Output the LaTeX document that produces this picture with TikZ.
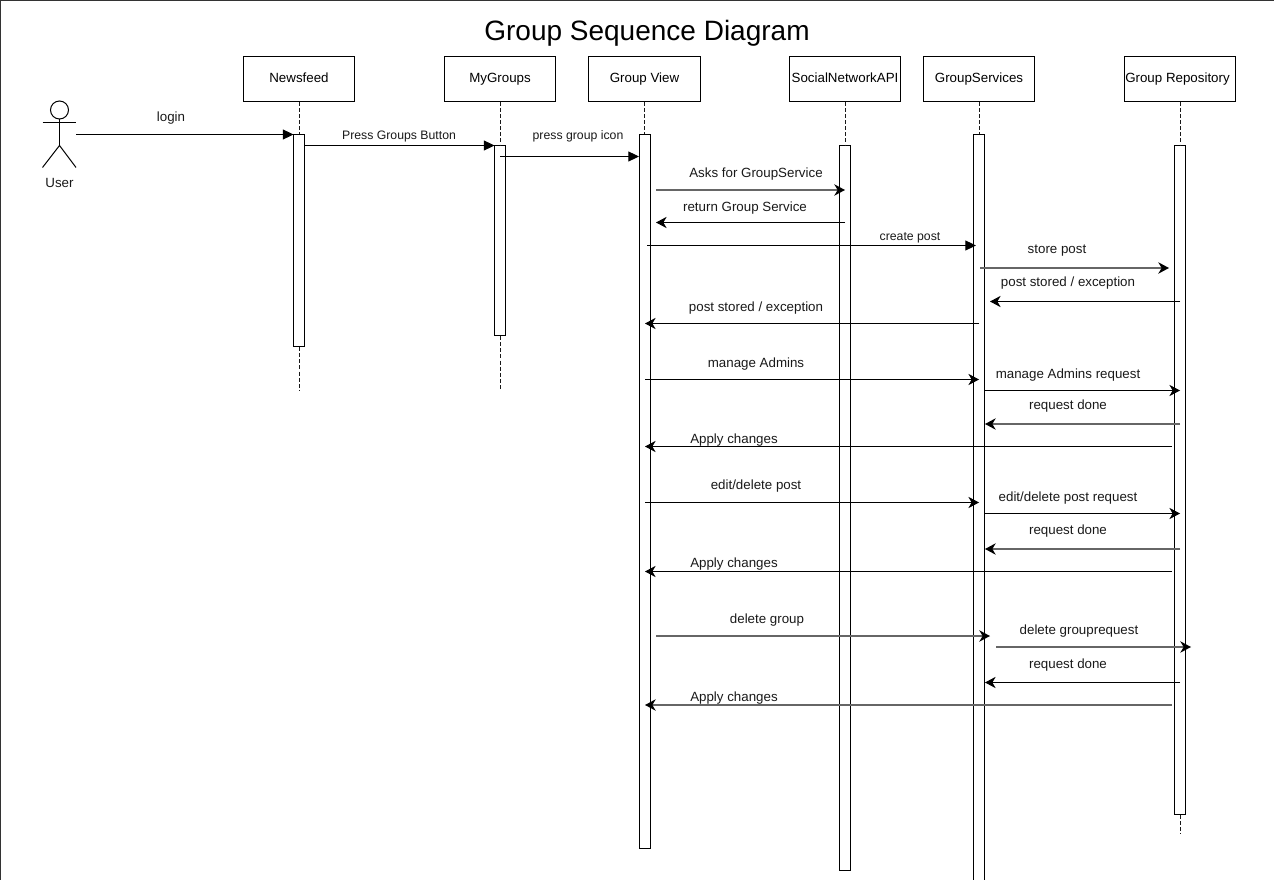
\documentclass[tikz,border=0pt]{standalone}
\usepackage{fontspec}
\setmainfont{Liberation Sans}
\usetikzlibrary{arrows.meta}

\tikzset{
  lifebox/.style={draw, fill=white, line width=0.75pt, minimum width=83.5pt, minimum height=33.75pt, inner sep=0pt, text height=7.2pt, text depth=2.1pt, font=\fontsize{10}{12}\selectfont},
  bar/.style={draw, fill=white, line width=0.75pt, minimum width=8.25pt, minimum height=#1*0.75pt, inner sep=0pt},
  life/.style={black!90, line width=0.75pt, dash pattern=on 3pt off 1.6pt},
  call/.style={black, line width=0.75pt, -{Triangle[length=8pt, width=7.5pt]}},
  msg/.style={black, line width=0.75pt, -{Stealth[length=8pt, width=8.5pt, inset=2.5pt]}},
  msgwide/.style={black!60, line width=1.1pt, -{Stealth[length=8pt, width=8.5pt, inset=2.5pt, black]}},
  lbl/.style={inner sep=0pt, text=black!90, text height=7.2pt, text depth=2.1pt, font=\fontsize{10}{12}\selectfont},
  small/.style={inner sep=0pt, text=black!90, text height=6.6pt, text depth=1.9pt, font=\fontsize{9.2}{11}\selectfont}
}

\begin{document}
\begin{tikzpicture}[x=0.75pt, y=-0.75pt]
\useasboundingbox (0,0) rectangle (1274,880);
\clip (0,0) rectangle (1274,880);

% rahmen
\fill[black!80] (0,0) rectangle (1274,1);
\fill[black!80] (0,0) rectangle (1,880);

\node[inner sep=0pt, font=\fontsize{21}{26}\selectfont] (title) at (647,33.5) {Group Sequence Diagram};

% user
\node[draw, circle, line width=0.75pt, minimum size=13.5pt, inner sep=0pt] (head) at (59.5,110) {};
\coordinate (hip) at (59.5,145.5);
\coordinate (armL) at (42.5,123);
\coordinate (armR) at (76,123);
\coordinate (legL) at (42.5,167.5);
\coordinate (legR) at (76,167.5);
\draw[line width=0.75pt] (head) -- (hip);
\draw[line width=0.75pt] (armL) -- (armR);
\draw[line width=0.75pt] (legL) -- (hip) -- (legR);
\node[lbl] (user) at (59.5,184) {User};

% kopfzeile
\node[lifebox] (news) at (299,78.7) {Newsfeed};
\node[lifebox] (mygroups) at (500,78.7) {MyGroups};
\node[lifebox] (view) at (644.5,78.7) {Group View};
\node[lifebox] (api) at (845,78.7) {SocialNetworkAPI};
\node[lifebox] (services) at (979,78.7) {GroupServices};
\node[lifebox] (repo) at (1180,78.7) {Group Repository\rule{3.75pt}{0pt}};

% balken
\node[bar=212] (newsbar) at (299,240.5) {};
\node[bar=190] (mygroupsbar) at (500,240.5) {};
\node[bar=714] (viewbar) at (644.5,491.5) {};
\node[bar=725] (apibar) at (845,508) {};
\node[bar=766] (servicesbar) at (979,517.5) {};
\node[bar=669] (repobar) at (1180,480) {};

\coordinate (newsend) at (299,390);
\coordinate (mygroupsend) at (500,390);
\coordinate (repoend) at (1180,834);

\draw[life] (news) -- (newsbar);
\draw[life] (newsbar) -- (newsend);
\draw[life] (mygroups) -- (mygroupsbar);
\draw[life] (mygroupsbar) -- (mygroupsend);
\draw[life] (view) -- (viewbar);
\draw[life] (api) -- (apibar);
\draw[life] (services) -- (servicesbar);
\draw[life] (repo) -- (repobar);
\draw[life] (repobar) -- (repoend);

% login bis create post
\coordinate (a1) at (76,134.5); \coordinate (b1) at (293.5,134.5);
\draw[call] (a1) -- (b1);
\node[lbl] (l1) at (171,118) {login};
\coordinate (a2) at (305,145.5); \coordinate (b2) at (494.5,145.5);
\draw[call] (a2) -- (b2);
\node[small] (l2) at (399,136) {Press Groups Button};
\coordinate (a3) at (500,156.5); \coordinate (b3) at (639,156.5);
\draw[call] (a3) -- (b3);
\node[small] (l3) at (578,136) {press group icon};
\coordinate (a4) at (656,190); \coordinate (b4) at (845,190);
\draw[msgwide] (a4) -- (b4);
\node[lbl] (l4) at (756,174) {Asks for GroupService};
\coordinate (a5) at (845,222.5); \coordinate (b5) at (656,222.5);
\draw[msg] (a5) -- (b5);
\node[lbl] (l5) at (745,208) {return Group Service};
\coordinate (a6) at (647,245.5); \coordinate (b6) at (976,245.5);
\draw[call] (a6) -- (b6);
\node[small] (l6) at (910,237.5) {create post};

% store post
\coordinate (a7) at (980,268); \coordinate (b7) at (1169,268);
\draw[msgwide] (a7) -- (b7);
\node[lbl] (l7) at (1057,250) {store post};
\coordinate (a8) at (1180,301.5); \coordinate (b8) at (990,301.5);
\draw[msg] (a8) -- (b8);
\node[lbl] (l8) at (1068,283) {post stored / exception};
\coordinate (a9) at (979,323.5); \coordinate (b9) at (645,323.5);
\draw[msg] (a9) -- (b9);
\node[lbl] (l9) at (756,308) {post stored / exception};

% manage admins
\coordinate (a10) at (645,379.5); \coordinate (b10) at (979,379.5);
\draw[msg] (a10) -- (b10);
\node[lbl] (l10) at (756,364) {manage Admins};
\coordinate (a11) at (985,390.5); \coordinate (b11) at (1180,390.5);
\draw[msg] (a11) -- (b11);
\node[lbl] (l11) at (1068,375) {manage Admins request};
\coordinate (a12) at (1180,424); \coordinate (b12) at (985,424);
\draw[msgwide] (a12) -- (b12);
\node[lbl] (l12) at (1068,406) {request done};
\coordinate (a13) at (1172,446.5); \coordinate (b13) at (645,446.5);
\draw[msg] (a13) -- (b13);
\node[lbl] (l13) at (734,440) {Apply changes};

% edit post
\coordinate (a14) at (645,502.5); \coordinate (b14) at (979,502.5);
\draw[msg] (a14) -- (b14);
\node[lbl] (l14) at (756,486) {edit/delete post};
\coordinate (a15) at (985,513.5); \coordinate (b15) at (1180,513.5);
\draw[msg] (a15) -- (b15);
\node[lbl] (l15) at (1068,498) {edit/delete post request};
\coordinate (a16) at (1180,549); \coordinate (b16) at (985,549);
\draw[msgwide] (a16) -- (b16);
\node[lbl] (l16) at (1068,531) {request done};
\coordinate (a17) at (1172,571.5); \coordinate (b17) at (645,571.5);
\draw[msg] (a17) -- (b17);
\node[lbl] (l17) at (734,564) {Apply changes};

% delete group
\coordinate (a18) at (656,636); \coordinate (b18) at (990,636);
\draw[msgwide] (a18) -- (b18);
\node[lbl] (l18) at (767,620) {delete group};
\coordinate (a19) at (996,647); \coordinate (b19) at (1191,647);
\draw[msgwide] (a19) -- (b19);
\node[lbl] (l19) at (1079,631) {delete grouprequest};
\coordinate (a20) at (1180,682.5); \coordinate (b20) at (985,682.5);
\draw[msg] (a20) -- (b20);
\node[lbl] (l20) at (1068,665) {request done};
\coordinate (a21) at (1172,705); \coordinate (b21) at (645,705);
\draw[msgwide] (a21) -- (b21);
\node[lbl] (l21) at (734,698) {Apply changes};

\end{tikzpicture}
\end{document}
